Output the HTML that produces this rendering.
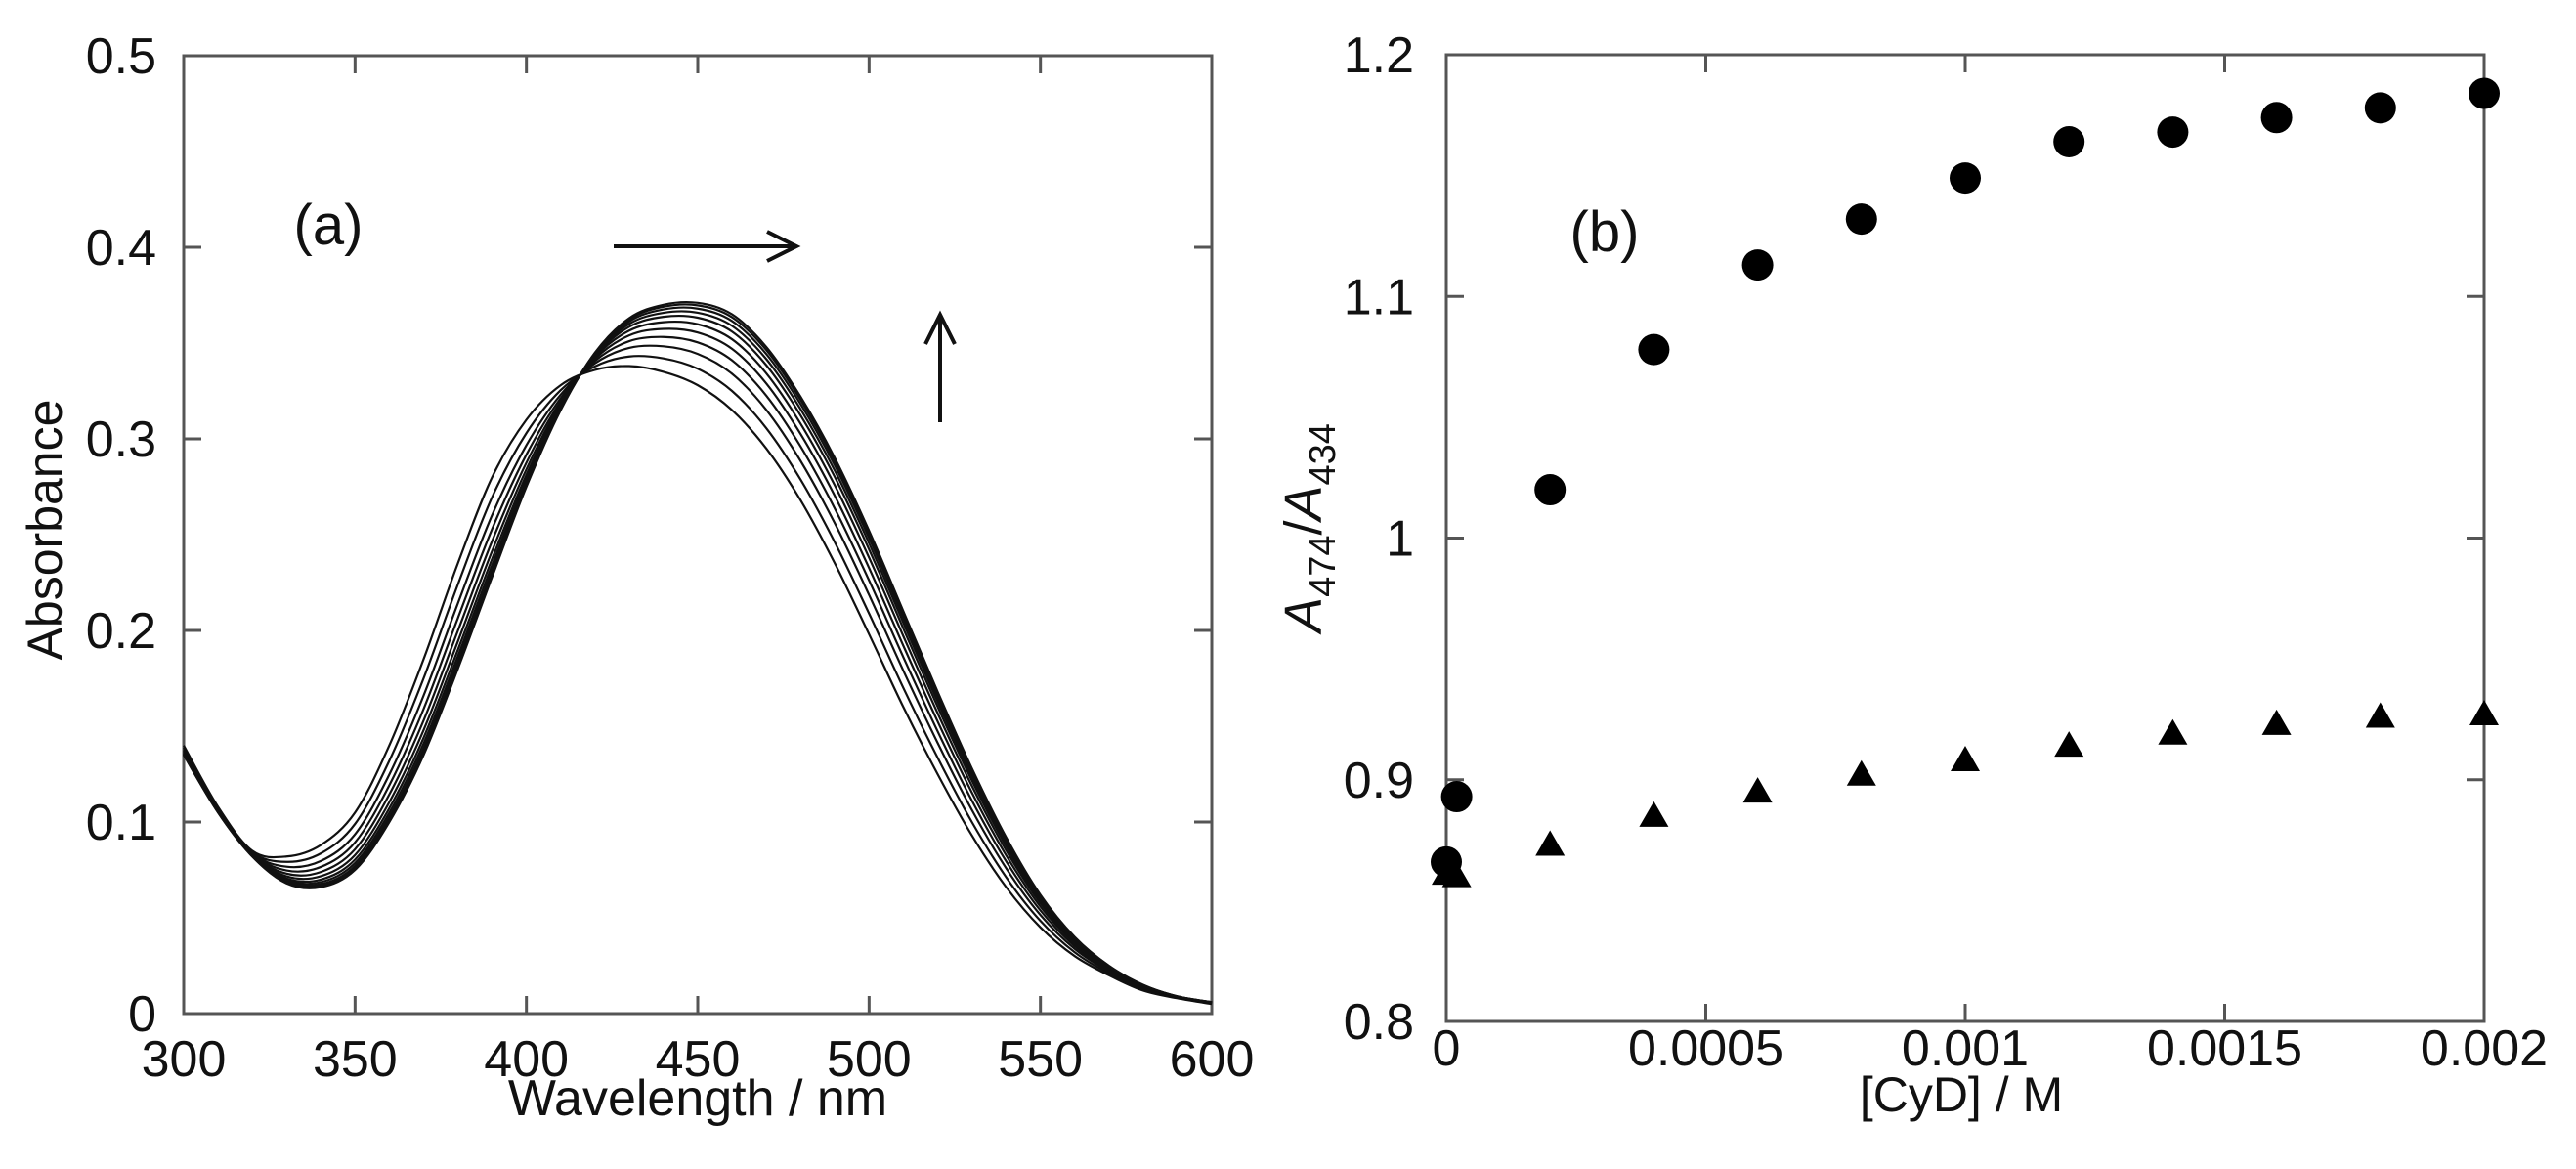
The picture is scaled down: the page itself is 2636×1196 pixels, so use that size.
<!DOCTYPE html>
<html><head><meta charset="utf-8"><style>
html,body{margin:0;padding:0;background:#fff;}
svg{display:block;font-family:"Liberation Sans",sans-serif;}
</style></head><body>
<svg id="fig" width="2636" height="1196" viewBox="0 0 2636 1196">
<g id="pa"></g>
<g id="pb"></g>
</svg>
<script>
// Panel a data
const wavelengths = [300,310,320,330,340,350,360,370,380,390,400,410,420,430,440,450,460,470,480,490,500,510,520,530,540,550,560,570,580,590,600];
const spectrumInitial = [0.140,0.108,0.085,0.082,0.088,0.105,0.140,0.185,0.235,0.280,0.310,0.328,0.336,0.338,0.335,0.328,0.315,0.295,0.268,0.235,0.198,0.160,0.125,0.093,0.066,0.045,0.030,0.020,0.012,0.008,0.005];
const spectrumFinal = [0.135,0.105,0.082,0.068,0.066,0.075,0.100,0.135,0.180,0.228,0.275,0.315,0.345,0.363,0.370,0.371,0.365,0.348,0.322,0.290,0.252,0.210,0.168,0.128,0.092,0.062,0.040,0.025,0.015,0.009,0.006];
const curveFractions = [0,0.2,0.38,0.52,0.64,0.74,0.82,0.88,0.93,0.97,1.0];
const xTicksA = [300,350,400,450,500,550,600];
const yTicksA = [0,0.1,0.2,0.3,0.4,0.5];
// Panel b data
const conc = [0,0.00002,0.0002,0.0004,0.0006,0.0008,0.001,0.0012,0.0014,0.0016,0.0018,0.002];
const ratioCircles = [0.866,0.893,1.020,1.078,1.113,1.132,1.149,1.164,1.168,1.174,1.178,1.184];
const ratioTriangles = [0.861,0.860,0.873,0.885,0.895,0.902,0.908,0.914,0.919,0.923,0.926,0.927];
const xTicksB = [0,0.0005,0.001,0.0015,0.002];
const xTickLabelsB = ["0","0.0005","0.001","0.0015","0.002"];
const yTicksB = [0.8,0.9,1.0,1.1,1.2];
const yTickLabelsB = ["0.8","0.9","1","1.1","1.2"];

const NS="http://www.w3.org/2000/svg";
function mk(parent,tag,attrs,text){const e=document.createElementNS(NS,tag);for(const k in attrs)e.setAttribute(k,attrs[k]);if(text!==undefined)e.textContent=text;parent.appendChild(e);return e;}

function frame(g,L,R,T,B){
  const r=mk(g,'rect',{x:L,y:T,width:R-L,height:B-T,fill:'none',stroke:'#555',"stroke-width":3});
  
  
}

// ---------- Panel A ----------
(function(){
  const g=document.getElementById('pa');
  const L=188,R=1240,T=57,B=1037;
  const sx=v=>L+(v-300)/300*(R-L);
  const sy=v=>B-(v/0.5)*(B-T);
  frame(g,L,R,T,B);
  xTicksA.forEach(t=>{
    const x=sx(t);
    const tk=mk(g,'path',{d:`M${x},${B}V${B-18}M${x},${T}V${T+18}`,stroke:'#555',"stroke-width":3});
    
    
    const lb=mk(g,'text',{x:x,y:1101,"font-size":52,"text-anchor":"middle",fill:'#111'},String(t));
    
    
  });
  yTicksA.forEach(t=>{
    const y=sy(t);
    const tk=mk(g,'path',{d:`M${L},${y}H${L+18}M${R},${y}H${R-18}`,stroke:'#555',"stroke-width":3});
    
    
    const lb=mk(g,'text',{x:160,y:y+18,"font-size":52,"text-anchor":"end",fill:'#111'},t===0?"0":t.toFixed(1));
    
    
  });
  curveFractions.forEach((f,ci)=>{
    const pts=wavelengths.map((w,i)=>[sx(w),sy((1-f)*spectrumInitial[i]+f*spectrumFinal[i])]);
    let d=`M${pts[0][0]},${pts[0][1]}`;
    for(let i=0;i<pts.length-1;i++){
      const p0=pts[Math.max(0,i-1)],p1=pts[i],p2=pts[i+1],p3=pts[Math.min(pts.length-1,i+2)];
      const c1x=p1[0]+(p2[0]-p0[0])/6,c1y=p1[1]+(p2[1]-p0[1])/6;
      const c2x=p2[0]-(p3[0]-p1[0])/6,c2y=p2[1]-(p3[1]-p1[1])/6;
      d+=`C${c1x},${c1y} ${c2x},${c2y} ${p2[0]},${p2[1]}`;
    }
    const p=mk(g,'path',{d:d,fill:'none',stroke:'#111',"stroke-width":2.2});
    
    
  });
  const t1=mk(g,'text',{x:714,y:1141,"font-size":52,"text-anchor":"middle",fill:'#111'},'Wavelength / nm');
  
  
  const t2=mk(g,'text',{x:0,y:0,"font-size":50,"text-anchor":"middle",fill:'#111',transform:'translate(63,542) rotate(-90)'},'Absorbance');
  
  
  const t3=mk(g,'text',{x:336,y:250,"font-size":58,"text-anchor":"middle",fill:'#111'},'(a)');
  
  
  const a1=mk(g,'path',{d:'M628,252H815M785,237L815,252L785,267',fill:'none',stroke:'#111',"stroke-width":4});
  
  
  const a2=mk(g,'path',{d:'M962,432V322M947,352L962,322L977,352',fill:'none',stroke:'#111',"stroke-width":4});
  
  
})();

// ---------- Panel B ----------
(function(){
  const g=document.getElementById('pb');
  const L=1480,R=2542,T=56,B=1045;
  const sx=v=>L+v/0.002*(R-L);
  const sy=v=>B-(v-0.8)/0.4*(B-T);
  frame(g,L,R,T,B);
  xTicksB.forEach((t,i)=>{
    const x=sx(t);
    const tk=mk(g,'path',{d:`M${x},${B}V${B-18}M${x},${T}V${T+18}`,stroke:'#555',"stroke-width":3});
    
    
    const lb=mk(g,'text',{x:x,y:1090,"font-size":52,"text-anchor":"middle",fill:'#111'},xTickLabelsB[i]);
    
    
  });
  yTicksB.forEach((t,i)=>{
    const y=sy(t);
    const tk=mk(g,'path',{d:`M${L},${y}H${L+18}M${R},${y}H${R-18}`,stroke:'#555',"stroke-width":3});
    
    
    const lb=mk(g,'text',{x:1447,y:y+18,"font-size":52,"text-anchor":"end",fill:'#111'},yTickLabelsB[i]);
    
    
  });
  conc.forEach((c,i)=>{
    const x=sx(c),y=sy(ratioTriangles[i]);
    const tr=mk(g,'path',{d:`M${x},${y-15}L${x+15},${y+11}L${x-15},${y+11}Z`,fill:'#000'});
    
    
  });
  conc.forEach((c,i)=>{
    const ci=mk(g,'circle',{cx:sx(c),cy:sy(ratioCircles[i]),r:16,fill:'#000'});
    
    
  });
  const t1=mk(g,'text',{x:2007,y:1137,"font-size":50,"text-anchor":"middle",fill:'#111'},'[CyD] / M');
  
  
  const t2=mk(g,'text',{x:0,y:0,"font-size":54,"text-anchor":"middle",fill:'#111',transform:'translate(1352,540) rotate(-90)'});
  t2.innerHTML='<tspan font-style="italic">A</tspan><tspan font-size="38" dy="14">474</tspan><tspan dy="-14">/</tspan><tspan font-style="italic">A</tspan><tspan font-size="38" dy="14">434</tspan>';
  
  
  const t3=mk(g,'text',{x:1642,y:257,"font-size":58,"text-anchor":"middle",fill:'#111'},'(b)');
  
  
})();
</script>
</body></html>
